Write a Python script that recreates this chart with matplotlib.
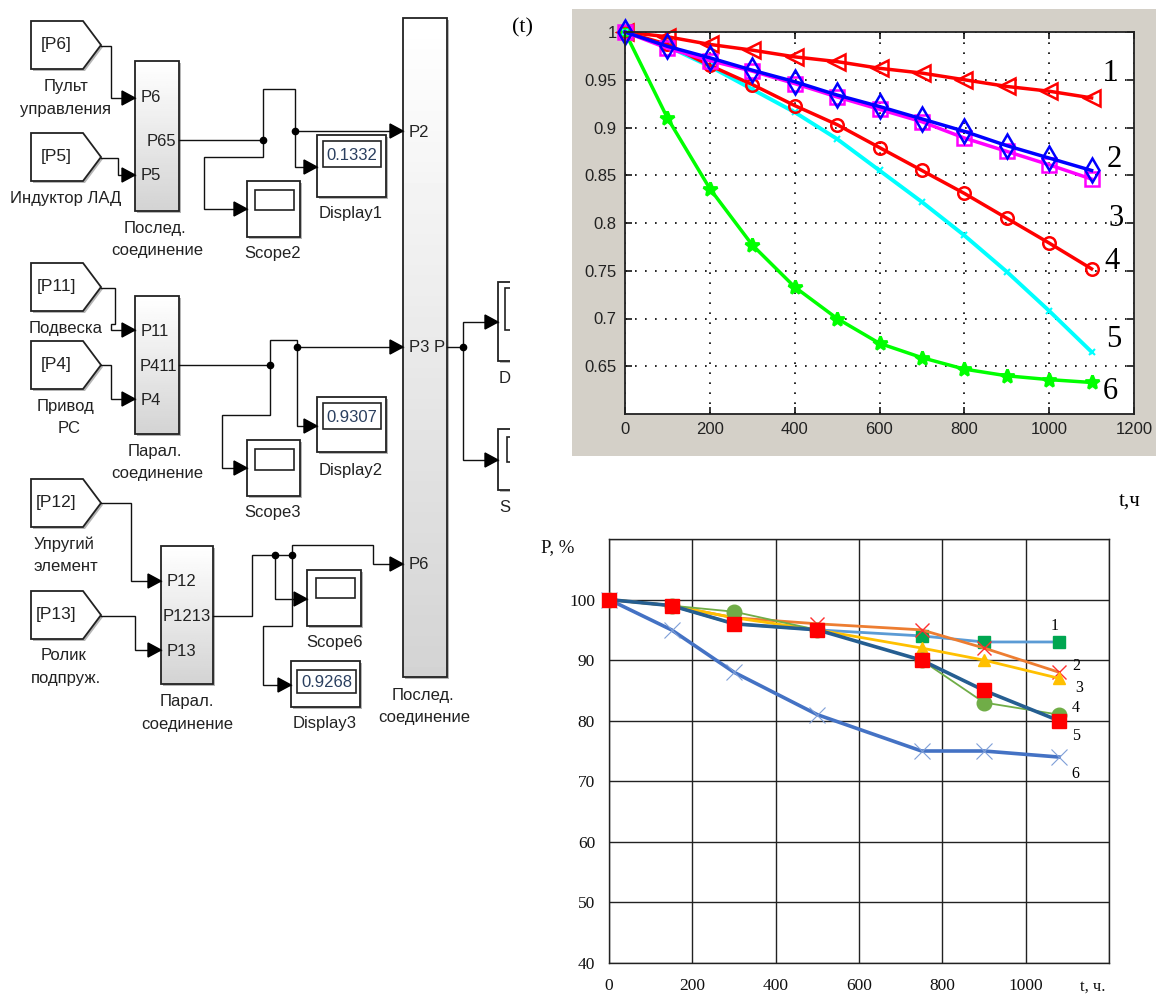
# -*- coding: utf-8 -*-
import numpy as np
import matplotlib
matplotlib.use('Agg')
import matplotlib.pyplot as plt
from matplotlib.patches import Rectangle, Polygon

W, H = 1156, 994
SANS = 'Liberation Sans'
SERIF = 'Liberation Serif'

# top chart data
top_t = [0, 100, 200, 300, 400, 500, 600, 700, 800, 900, 1000, 1100]
top_1 = [1, .995, .987, .981, .974, .969, .962, .957, .950, .943, .938, .931]
top_2 = [1, .985, .973, .960, .948, .934, .922, .909, .896, .881, .868, .855]
top_3 = [1, .983, .970, .959, .946, .932, .919, .906, .889, .875, .861, .846]
top_4 = [1, .987, .965, .945, .923, .903, .879, .855, .831, .805, .779, .752]
top_5 = [1, .985, .964, .940, .916, .888, .855, .822, .787, .749, .708, .665]
top_6 = [1, .910, .836, .777, .733, .700, .674, .659, .647, .640, .636, .633]
top_xticks = [0, 200, 400, 600, 800, 1000, 1200]
top_yticks = [0.65, 0.7, 0.75, 0.8, 0.85, 0.9, 0.95, 1]
top_ylabels = ['0.65', '0.7', '0.75', '0.8', '0.85', '0.9', '0.95', '1']

# bottom chart data
bot_t = [0, 150, 300, 500, 750, 900, 1080]
bot_1 = [100, 99, 96, 95, 94, 93, 93]
bot_2 = [100, 99, 97, 96, 95, 92, 88]
bot_3 = [100, 99, 97, 95, 92, 90, 87]
bot_4 = [100, 99, 98, 95, 90, 83, 81]
bot_5 = [100, 99, 96, 95, 90, 85, 80]
bot_6 = [100, 95, 88, 81, 75, 75, 74]
bot_xticks = [0, 200, 400, 600, 800, 1000]
bot_yticks = [40, 50, 60, 70, 80, 90, 100]

# diagram values
display_values = ['0.1332', '0.9307', '0.9268']


def add_axes_px(x0, y0, x1, y1):
	return fig.add_axes([x0 / W, 1 - y1 / H, (x1 - x0) / W, (y1 - y0) / H])


def label(x, y, s, size=12, family=SANS, ha='center', color='#222222', **kw):
	fig.text(x / W, 1 - (y + 1.5) / H, s, fontsize=size, family=family, ha=ha, va='center', color=color, zorder=10, **kw)


def wire(points, arrow=False):
	xs = [p[0] for p in points]
	ys = [p[1] for p in points]
	dg.plot(xs, ys, color='#111111', lw=1.0, solid_joinstyle='miter', zorder=3)
	if arrow:
		x, y = points[-1]
		dg.add_patch(Polygon([(x - 13, y - 7), (x, y), (x - 13, y + 7)], color='black', zorder=4))


def dot(x, y):
	dg.plot([x], [y], 'o', color='black', ms=4.5, zorder=4)


def shadow(x0, y0, x1, y1):
	dg.add_patch(Rectangle((x0 + 2, y0 + 2), x1 - x0, y1 - y0, fc='#b5b5b5', ec='none', zorder=1))


def goto(x, y, s):
	pts = [(x, y), (x + 52, y), (x + 70, y + 24), (x + 52, y + 48), (x, y + 48)]
	dg.add_patch(Polygon([(a + 2, b + 2) for a, b in pts], fc='#b5b5b5', ec='none', zorder=1))
	dg.add_patch(Polygon(pts, fc='white', ec='#222222', lw=1.3, zorder=2))
	dg.text(x + 25, y + 24, s, fontsize=12.5, family=SANS, ha='center', va='center', color='#222222', zorder=5)


def block(x0, y0, x1, y1):
	shadow(x0, y0, x1, y1)
	grad = np.linspace(1.0, 0.83, 64).reshape(-1, 1)
	dg.imshow(grad, cmap='gray', vmin=0, vmax=1, extent=(x0, x1, y1, y0), aspect='auto', zorder=2)
	dg.add_patch(Rectangle((x0, y0), x1 - x0, y1 - y0, fc='none', ec='#222222', lw=1.3, zorder=3))


def scope(x0, y0, x1, y1, ix0, iy0, ix1, iy1):
	shadow(x0, y0, x1, y1)
	dg.add_patch(Rectangle((x0, y0), x1 - x0, y1 - y0, fc='white', ec='#222222', lw=1.3, zorder=2))
	dg.add_patch(Rectangle((ix0, iy0), ix1 - ix0, iy1 - iy0, fc='white', ec='#222222', lw=1.2, zorder=3))


def display(x0, y0, x1, y1, ix0, iy0, ix1, iy1, s):
	scope(x0, y0, x1, y1, ix0, iy0, ix1, iy1)
	dg.text((ix0 + ix1) / 2, (iy0 + iy1) / 2 + 1, s, fontsize=12, family=SANS, ha='center', va='center', color='#2a3f5f', zorder=5)


fig = plt.figure(figsize=(W / 100, H / 100), dpi=100)

dg = add_axes_px(0, 0, W, H)
dg.set_xlim(0, W)
dg.set_ylim(H, 0)
dg.axis('off')

# group 1
goto(31, 21, '[P6]')
goto(31, 133, '[P5]')
block(135, 61, 179, 211)
wire([(101, 46), (111, 46), (111, 98), (135, 98)], True)
wire([(101, 158), (118, 158), (118, 175), (135, 175)], True)
wire([(179, 140), (263, 140), (263, 89), (295, 89), (295, 131), (403, 131)], True)
wire([(295, 131), (295, 167), (317, 167)], True)
wire([(263, 140), (263, 157), (204, 157), (204, 209), (247, 209)], True)
dot(263, 140)
dot(295, 131)
display(317, 135, 386, 197, 323, 141, 381, 167, display_values[0])
scope(247, 181, 300, 237, 255, 190, 294, 210)

# group 2
goto(31, 263, '[P11]')
goto(31, 341, '[P4]')
block(135, 296, 179, 434)
wire([(101, 288), (115, 288), (115, 324), (111, 324), (111, 330), (135, 330)], True)
wire([(101, 365), (111, 365), (111, 399), (135, 399)], True)
wire([(179, 365), (270, 365), (270, 340), (297, 340), (297, 347), (403, 347)], True)
wire([(297, 347), (297, 426), (317, 426)], True)
wire([(270, 365), (270, 415), (222, 415), (222, 468), (247, 468)], True)
dot(270, 365)
dot(297, 347)
display(317, 397, 386, 452, 323, 403, 381, 429, display_values[1])
scope(247, 440, 300, 496, 255, 449, 294, 470)

# group 3
goto(31, 479, '[P12]')
goto(31, 591, '[P13]')
block(161, 546, 213, 684)
wire([(101, 503), (131, 503), (131, 581), (161, 581)], True)
wire([(101, 616), (135, 616), (135, 650), (161, 650)], True)
wire([(213, 616), (252, 616), (252, 555), (292, 555), (292, 545), (373, 545), (373, 564), (403, 564)], True)
wire([(275, 555), (275, 599), (307, 599)], True)
wire([(292, 555), (292, 626), (263, 626), (263, 685), (291, 685)], True)
dot(275, 555)
dot(292, 555)
scope(307, 570, 361, 626, 316, 578, 355, 598)
display(291, 661, 360, 707, 297, 670, 356, 693, display_values[2])

# big block and the part cut off at the right
block(403, 18, 447, 677)
wire([(447, 347), (463, 347), (463, 322), (498, 322)], True)
wire([(463, 347), (463, 460), (498, 460)], True)
dot(463, 347)
scope(498, 282, 560, 361, 505, 288, 555, 330)
scope(498, 429, 560, 490, 507, 437, 555, 462)
label(505, 377, 'D')
label(505, 506, 'S')
dg.add_patch(Rectangle((510, 0), W - 510, H, fc='white', ec='none', zorder=6))
dg.add_patch(Rectangle((572, 9), W - 572, 447, fc='#d4d0c8', ec='none', zorder=7))

# diagram texts
for x, y, s in [(141, 96, 'P6'), (141, 174, 'P5'), (147, 140, 'P65'), (141, 330, 'P11'),
				(140, 365, 'P411'), (141, 399, 'P4'), (167, 580, 'P12'), (163, 615, 'P1213'),
				(167, 650, 'P13'), (409, 131, 'P2'), (409, 346, 'P3 P'), (409, 563, 'P6')]:
	label(x, y, s, ha='left')
for x, y, s in [(66, 85, 'Пульт'), (66, 108, 'управления'), (66, 197, 'Индуктор ЛАД'),
				(155, 227, 'Послед.'), (157, 249, 'соединение'), (66, 327, 'Подвеска'),
				(66, 405, 'Привод'), (69, 427, 'РС'), (155, 450, 'Парал.'), (157, 472, 'соединение'),
				(64, 543, 'Упругий'), (66, 565, 'элемент'), (64, 654, 'Ролик'), (66, 677, 'подпруж.'),
				(187, 700, 'Парал.'), (187, 723, 'соединение'), (423, 694, 'Послед.'), (424, 716, 'соединение'),
				(351, 212, 'Display1'), (273, 252, 'Scope2'), (351, 469, 'Display2'), (273, 511, 'Scope3'),
				(335, 641, 'Scope6'), (325, 722, 'Display3')]:
	label(x, y, s)
label(512, 26, '(t)', size=16, family=SERIF, ha='left', color='black')

# top chart
ax = add_axes_px(625, 32, 1134, 414)
ax.plot(top_t, top_1, '-<', color='red', lw=2.5, ms=12, mfc='none', mew=1.8, clip_on=False)
ax.plot(top_t, top_6, '-*', color='#00ff00', lw=2.5, ms=10, mew=2.0, clip_on=False)
ax.plot(top_t, top_5, '-x', color='cyan', lw=2.8, ms=5, mew=1.5, clip_on=False)
ax.plot(top_t, top_4, '-o', color='red', lw=2.5, ms=9, mfc='none', mew=1.8, clip_on=False)
ax.plot(top_t, top_3, '-s', color='magenta', lw=2.5, ms=10.5, mfc='none', mew=1.8, clip_on=False)
ax.plot(top_t, top_2, '-d', color='blue', lw=2.5, ms=12, mfc='none', mew=1.8, clip_on=False)
ax.set_xlim(0, 1200)
ax.set_ylim(0.6, 1)
ax.set_xticks(top_xticks)
ax.set_yticks(top_yticks)
ax.set_yticklabels(top_ylabels)
ax.tick_params(direction='in', top=True, right=True, length=5, width=1.1, labelsize=12, pad=6, labelcolor='#222222')
for lab in ax.get_xticklabels() + ax.get_yticklabels():
	lab.set_family(SANS)
ax.grid(True, color='black', linestyle=(0, (1, 5)), lw=1.2)
ax.set_axisbelow(True)
for sp in ax.spines.values():
	sp.set_linewidth(1.3)
	sp.set_color('#222222')

for x, y, s in [(1110, 72, '1'), (1114, 158, '2'), (1116, 217, '3'), (1112, 260, '4'), (1114, 338, '5'), (1110, 390, '6')]:
	label(x, y, s, size=22, family=SERIF, color='black')
label(1130, 500, 't,ч', size=15, family=SERIF, color='black')

# bottom chart
bx = add_axes_px(609, 539, 1109, 963)
bx.plot(bot_t, bot_6, '-x', color='#4472c4', mec='#7f9fd8', lw=2.6, ms=11, mew=0.8, zorder=3, clip_on=False)
bx.plot(bot_t, bot_1, '-', color='#5b9bd5', lw=2.0, zorder=3)
bx.plot(bot_t[4:], bot_1[4:], 's', color='#00a651', ms=8, zorder=3)
bx.plot(bot_t, bot_2, '-x', color='#ed7d31', mec='#ff3030', lw=2.0, ms=10, mew=1.0, zorder=4)
bx.plot(bot_t, bot_3, '-^', color='#ffc000', lw=2.0, ms=9, zorder=4)
bx.plot(bot_t, bot_4, '-o', color='#70ad47', lw=1.3, ms=10.5, zorder=4)
bx.plot(bot_t, bot_5, '-s', color='#255e91', mfc='#ff0000', mec='#ff0000', lw=2.6, ms=10, zorder=5, clip_on=False)
bx.set_xlim(0, 1200)
bx.set_ylim(40, 110)
bx.set_xticks(list(bot_xticks) + [1200])
bx.set_xticklabels([str(v) for v in bot_xticks] + [''])
bx.set_yticks(bot_yticks + [110])
bx.set_yticklabels([str(v) for v in bot_yticks] + [''])
bx.tick_params(length=0, labelsize=12.5, labelcolor='#111111')
bx.tick_params(axis='y', pad=10)
bx.tick_params(axis='x', pad=11)
for lab in bx.get_xticklabels() + bx.get_yticklabels():
	lab.set_family(SERIF)
bx.grid(True, color='#222222', lw=1.0)
bx.set_axisbelow(True)
for sp in bx.spines.values():
	sp.set_linewidth(1.0)
	sp.set_color('#222222')

for x, y, s in [(1055, 625, '1'), (1076, 664, '2'), (1079, 687, '3'), (1076, 707, '4'), (1076, 735, '5'), (1075, 772, '6')]:
	label(x, y, s, size=11.5, family=SERIF, color='black')
label(558, 546, 'P, %', size=13.5, family=SERIF, color='#111111')
label(1093, 985, 't, ч.', size=12, family=SERIF, color='#111111')

fig.savefig('out.png', dpi=100)
